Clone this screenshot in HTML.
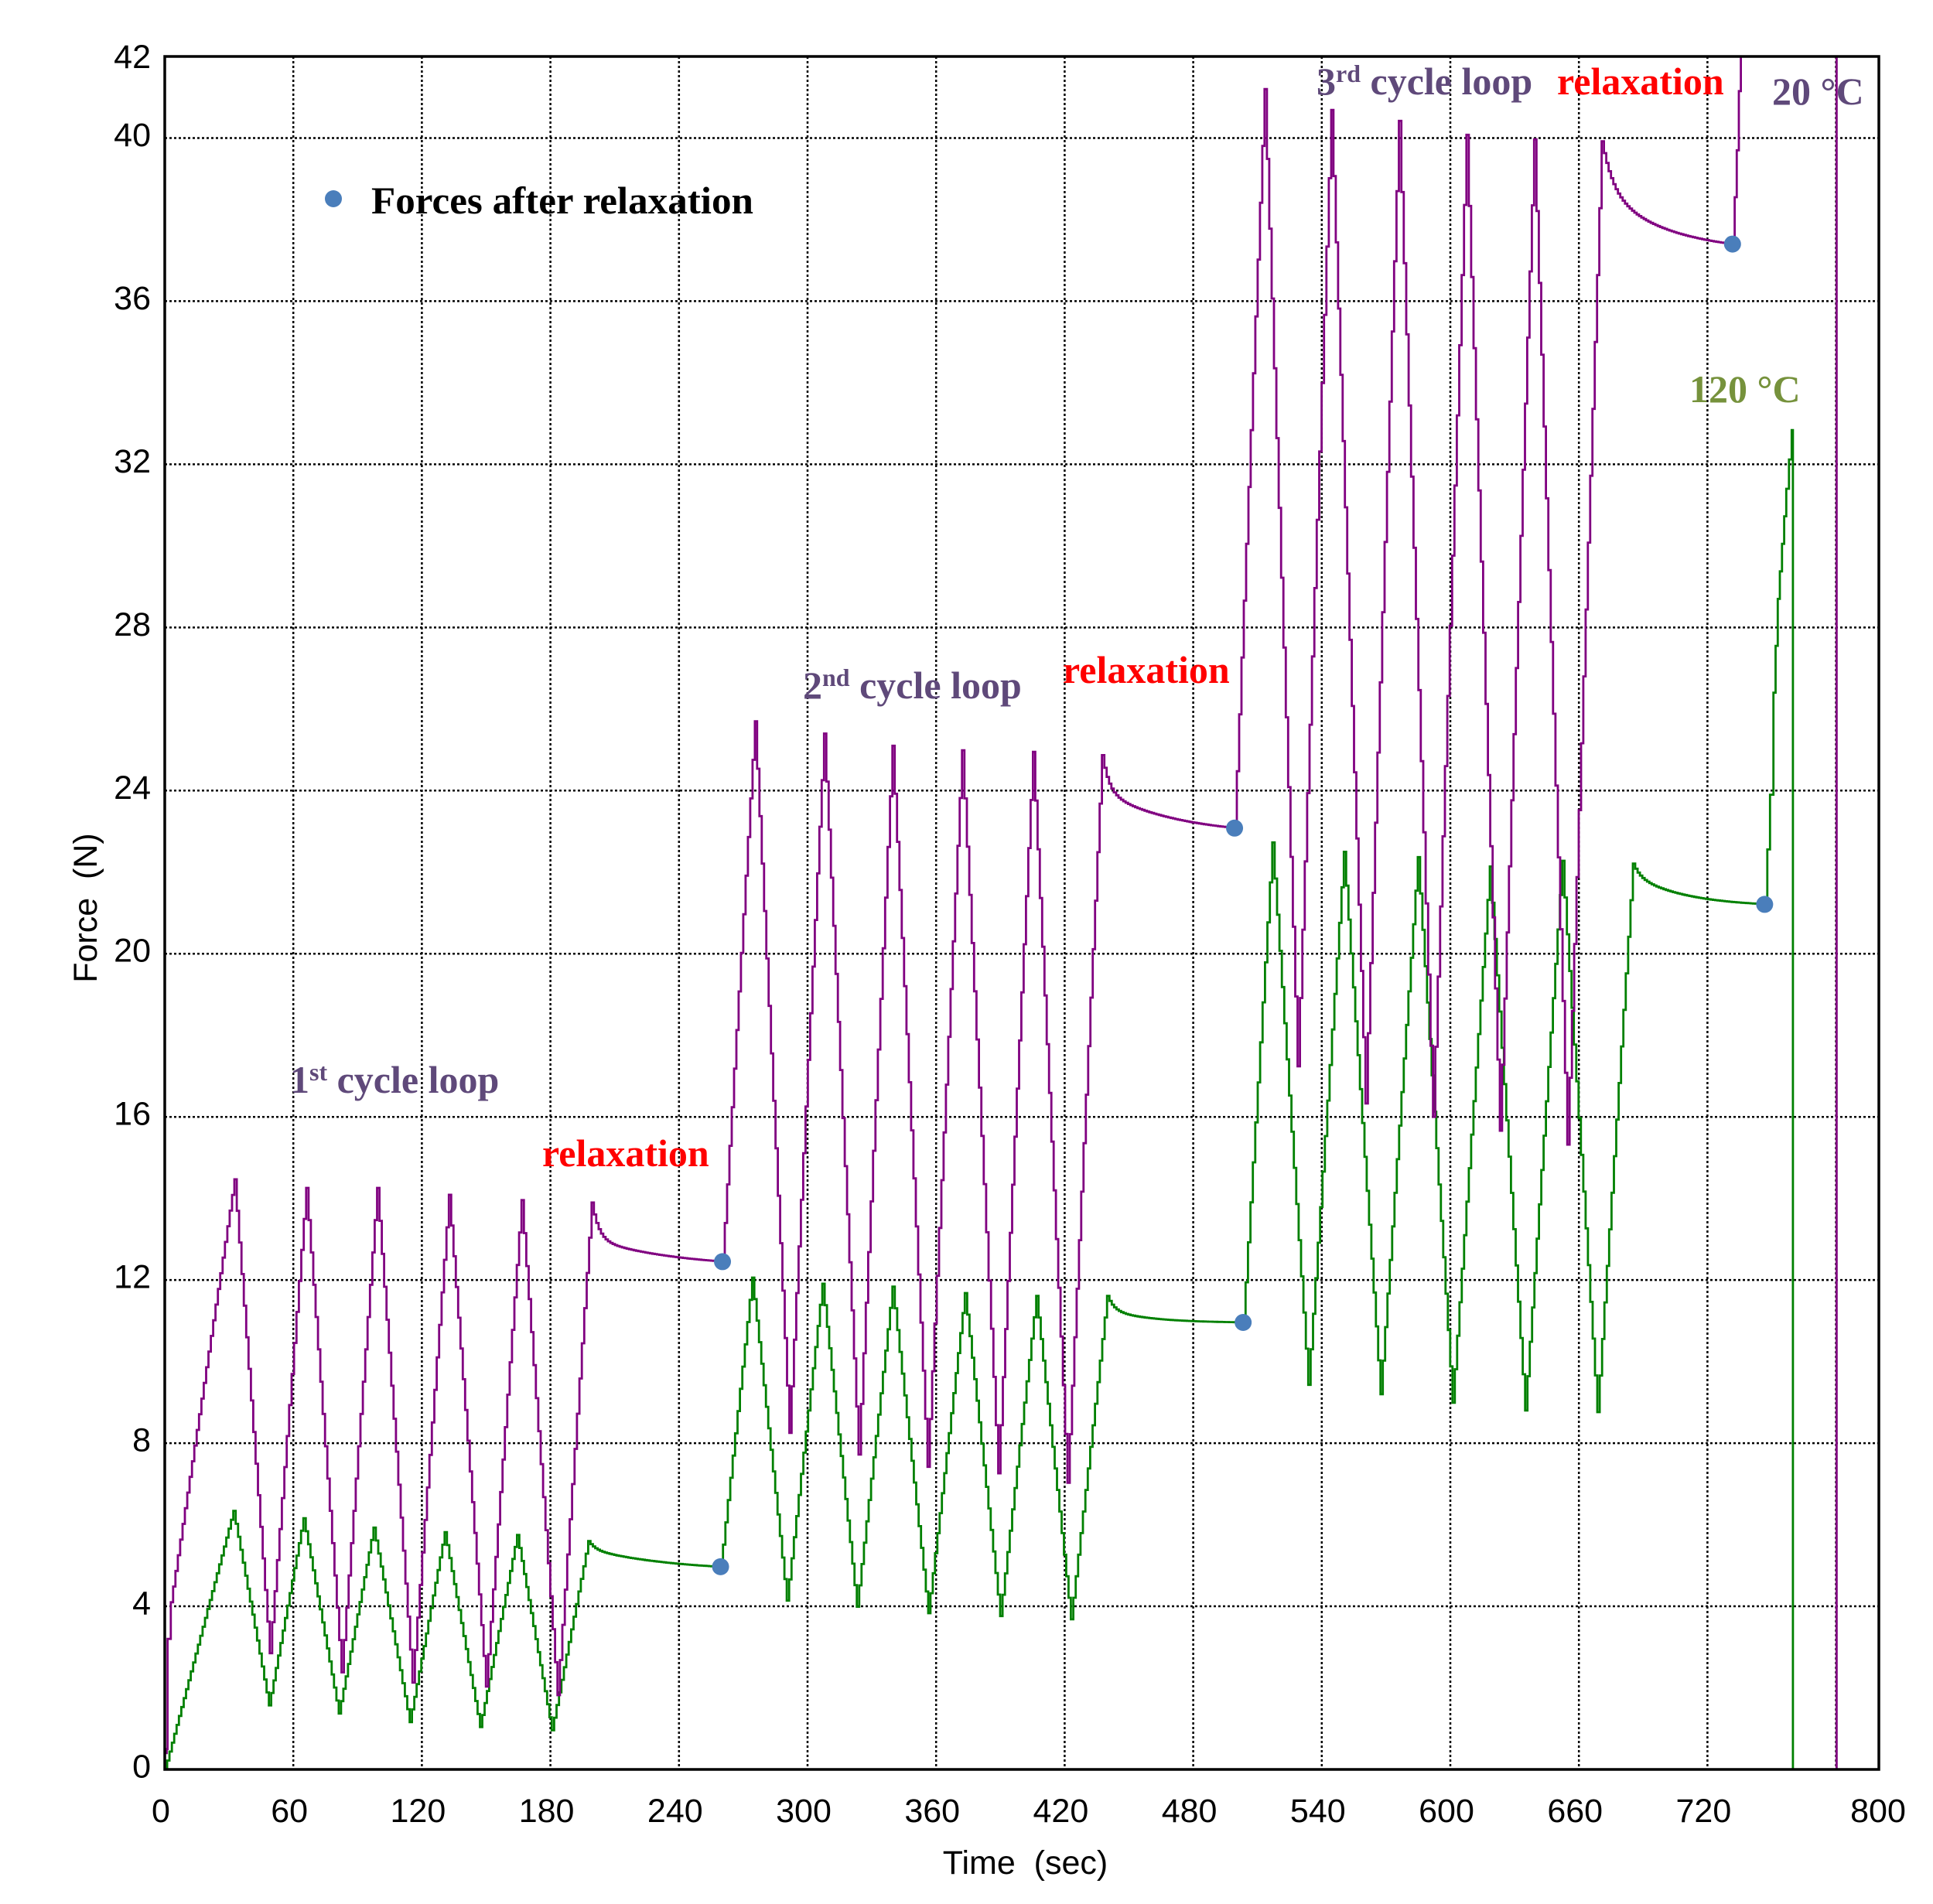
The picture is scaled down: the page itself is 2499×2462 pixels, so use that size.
<!DOCTYPE html>
<html>
<head>
<meta charset="utf-8">
<style>
html,body{margin:0;padding:0;background:#fff;}
svg{display:block;}
.tk{font-family:"Liberation Sans",Arial,sans-serif;font-size:43px;fill:#000;}
.an{font-family:"Liberation Serif","Times New Roman",serif;font-size:50px;font-weight:bold;}
</style>
</head>
<body>
<svg id="s" xmlns="http://www.w3.org/2000/svg" width="2499" height="2462" viewBox="0 0 2499 2462">
<rect width="2499" height="2462" fill="#fff"/>
<defs><clipPath id="c"><rect x="213" y="73" width="2216" height="2215"/></clipPath></defs>
<g id="grid" stroke="#000" stroke-width="2.5" stroke-dasharray="3 3" fill="none"></g>
<g id="series" clip-path="url(#c)" fill="none" stroke-width="2.8"></g>
<rect x="213" y="73" width="2216" height="2215" fill="none" stroke="#000" stroke-width="3.5"/>
<g id="dots" fill="#4A7EBB"></g>

<!-- Y tick labels -->
<g class="tk" text-anchor="end">
<text x="195" y="2298.5">0</text>
<text x="195" y="2087.5">4</text>
<text x="195" y="1876.6">8</text>
<text x="195" y="1665.6">12</text>
<text x="195" y="1454.7">16</text>
<text x="195" y="1243.7">20</text>
<text x="195" y="1032.8">24</text>
<text x="195" y="821.8">28</text>
<text x="195" y="610.9">32</text>
<text x="195" y="399.9">36</text>
<text x="195" y="189">40</text>
<text x="195" y="88">42</text>
</g>
<!-- X tick labels -->
<g class="tk" text-anchor="middle">
<text x="208" y="2356">0</text>
<text x="374.2" y="2356">60</text>
<text x="540.4" y="2356">120</text>
<text x="706.6" y="2356">180</text>
<text x="872.8" y="2356">240</text>
<text x="1039" y="2356">300</text>
<text x="1205.2" y="2356">360</text>
<text x="1371.4" y="2356">420</text>
<text x="1537.6" y="2356">480</text>
<text x="1703.8" y="2356">540</text>
<text x="1870" y="2356">600</text>
<text x="2036.2" y="2356">660</text>
<text x="2202.4" y="2356">720</text>
<text x="2428" y="2356">800</text>
</g>
<text class="tk" x="1325.5" y="2423" text-anchor="middle">Time&#160; (sec)</text>
<text class="tk" transform="translate(125,1174) rotate(-90)" text-anchor="middle">Force&#160; (N)</text>

<!-- legend -->
<circle cx="431" cy="257" r="11" fill="#4A7EBB"/>
<text class="an" x="480" y="276" fill="#000" textLength="494" lengthAdjust="spacingAndGlyphs">Forces after relaxation</text>

<!-- annotations -->
<text class="an" x="375" y="1413" fill="#5F497A">1<tspan font-size="32" dy="-16">st</tspan><tspan dy="16"> cycle loop</tspan></text>
<text class="an" x="701" y="1508" fill="#FF0000">relaxation</text>
<text class="an" x="1038" y="903" fill="#5F497A">2<tspan font-size="32" dy="-16">nd</tspan><tspan dy="16"> cycle loop</tspan></text>
<text class="an" x="1374" y="883" fill="#FF0000">relaxation</text>
<text class="an" x="1702" y="122" fill="#5F497A">3<tspan font-size="32" dy="-16">rd</tspan><tspan dy="16"> cycle loop</tspan></text>
<text class="an" x="2013" y="122" fill="#FF0000">relaxation</text>
<text class="an" x="2291" y="135" fill="#5F497A">20 °C</text>
<text class="an" x="2184" y="520" fill="#76923C">120 °C</text>
</svg>
<script>
(function(){
var NS="http://www.w3.org/2000/svg";
function X(t){return 213+t*2.77;}
function Y(f){return 2288-f*52.738;}
var grid=document.getElementById("grid");
function line(g,x1,y1,x2,y2){var l=document.createElementNS(NS,"line");l.setAttribute("x1",x1);l.setAttribute("y1",y1);l.setAttribute("x2",x2);l.setAttribute("y2",y2);g.appendChild(l);}
for(var t=60;t<=780;t+=60){line(grid,X(t),73,X(t),2288);}
for(var f=4;f<=40;f+=4){line(grid,213,Y(f),2429,Y(f));}

function gen(nodes){
  var out=[];
  nodes.forEach(function(n){
    if(Array.isArray(n)){
      if(out.length){
        var p=out[out.length-1],t0=p[0],f0=p[1],t1=n[0],f1=n[1];
        var steps=Math.max(1,Math.round((t1-t0)/1.1));
        for(var i=1;i<=steps;i++){out.push([t0+(t1-t0)*i/steps,f0+(f1-f0)*i/steps]);}
      } else out.push(n);
    } else {
      var d=n.d,t0=d[0],t1=d[1],b=d[2],a1=d[3],k1=d[4],a2=d[5],k2=d[6];
      var steps=Math.round((t1-t0)/1.1);
      for(var i=1;i<=steps;i++){var tt=t0+(t1-t0)*i/steps,dt=tt-t0;out.push([tt,b+a1*Math.exp(-dt/k1)+a2*Math.exp(-dt/k2)]);}
    }
  });
  return out;
}
function path(pts,color){
  var d="M"+X(pts[0][0]).toFixed(1)+" "+Y(pts[0][1]).toFixed(1);
  for(var i=1;i<pts.length;i++){d+="H"+X(pts[i][0]).toFixed(1)+"V"+Y(pts[i][1]).toFixed(1);}
  var p=document.createElementNS(NS,"path");p.setAttribute("d",d);p.setAttribute("stroke",color);
  document.getElementById("series").appendChild(p);
}
var green=[[0,0],[32,6.34],[48.6,1.57],[64.7,6.16],[81.2,1.37],[97.4,5.93],[114.3,1.16],[130.6,5.82],[147.1,1.04],[164.4,5.75],[180.6,0.96],[197.6,5.6],
{d:[197.6,259.4,4.85,0.2,3,0.55,40]},
[274.1,12.06],[290.3,4.14],[306.9,11.91],[323,3.99],[339.6,11.84],[356.3,3.83],[373.4,11.68],[389.9,3.76],[406.7,11.61],[422.9,3.68],[439.8,11.61],
{d:[439.8,503.3,10.95,0.35,3,0.31,20]},
[516.9,22.73],[533.7,9.43],[550.3,22.5],[567.4,9.2],[584.8,22.37],[601,8.99],[618.4,22.14],[634.9,8.8],[652.2,22.28],[668.6,8.76],[685.2,22.21],
{d:[685.2,746.7,21.15,0.3,3,0.76,25]},
[749.2,23.9],[750.8,26.4],[752.8,28.7],[756.8,31.4],[759.3,32.84],[759.9,32.84],[759.9,-1]];
var purple=[[0,0.4],[0.9,0.5],[1.3,3.2],[2.8,4.1],[32.5,14.47],[49,2.85],[66,14.26],[82.5,2.38],[99.1,14.26],[115.6,2.13],[132.6,14.09],[149.9,2.03],[166.5,13.96],[183.3,1.82],[199.2,13.9],
{d:[199.2,260.3,12.3,0.9,3,0.7,40]},
[275.4,25.7],[291.5,8.25],[307.7,25.4],[323.8,7.72],[339.6,25.1],[356,7.42],[372.1,24.99],[389,7.26],[405.2,24.95],[421.3,7.03],[437.4,24.87],
{d:[437.4,499.3,22.9,0.9,3,1.07,35]},
[513.3,41.2],[528.7,17.24],[544.4,40.69],[560.4,16.33],[576,40.42],[591.9,16.0],[607.5,40.08],[623.1,15.66],[639.1,39.97],[654.6,15.32],[670.6,39.92],
{d:[670.6,731.7,37.2,1.2,5,1.52,30]},
[733.7,39.7],[735.6,42.6],[737,44],[780.3,44],[780.3,-1]];
path(gen(green),"#008000");
path(gen(purple),"#800080");
var dots=document.getElementById("dots");
[[260.3,12.45],[499.3,23.08],[731.7,37.4],[259.4,4.97],[503.3,10.96],[746.7,21.21]].forEach(function(p){
  var c=document.createElementNS(NS,"circle");c.setAttribute("cx",X(p[0]));c.setAttribute("cy",Y(p[1]));c.setAttribute("r",11);dots.appendChild(c);
});
})();
</script>
</body>
</html>
